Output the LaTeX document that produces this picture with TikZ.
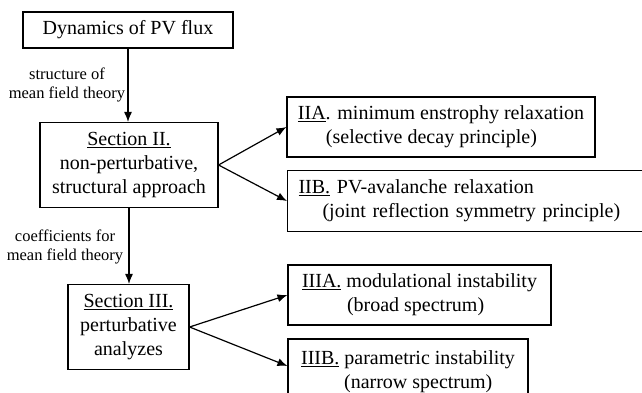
\documentclass[tikz,border=0pt]{standalone}
\usepackage{fontspec}
\setmainfont{Liberation Serif}
\usetikzlibrary{arrows.meta,calc}
\begin{document}
\begin{tikzpicture}[x=1pt,y=-1pt,
 box/.style={draw,line width=1.1pt,inner sep=0pt,font=\fontsize{20}{24}\selectfont},
 lbl/.style={align=center,font=\fontsize{16.5}{19.5}\selectfont,inner sep=0pt},
 arr/.style={line width=1.2pt,-{Latex[length=10pt,width=8pt]}}]
\useasboundingbox (0,0) rectangle (642,393);
\node[box, minimum width=210pt, minimum height=36pt] (top) at (128,30) {Dynamics of PV flux};
\node[box, align=center, minimum width=178pt, minimum height=85pt] (sec2) at (129,165) {\underline{Section II.}\\non-perturbative,\\structural approach};
\node[box, align=center, minimum width=121pt, minimum height=85pt] (sec3) at (128.5,327) {\underline{Section III.}\\perturbative\\analyzes};
\node[box, align=left, minimum width=308pt, minimum height=60pt] (iia) at (441,127) {\underline{IIA}. minimum enstrophy relaxation\\\hspace*{28pt}(selective decay principle)};
\node[box, align=left, anchor=north west, text width=358pt, inner xsep=11pt, minimum height=61pt] (iib) at (287,170) {\underline{IIB.} PV-avalanche relaxation\\\hspace*{24pt}(joint reflection symmetry principle)};
\node[box, align=left, minimum width=263pt, minimum height=60pt] (iiia) at (419.5,295) {\underline{IIIA.} modulational instability\\\hspace*{45pt}(broad spectrum)};
\node[box, align=left, minimum width=240pt, minimum height=66pt] (iiib) at (408,372) {\underline{IIIB.} parametric instability\\\hspace*{43pt}(narrow spectrum)};
\node[lbl] (lab1) at (67,85) {structure of\\mean field theory};
\node[lbl] (lab2) at (65,247) {coefficients for\\mean field theory};
\draw[arr] (top.south) -- (top.south |- sec2.north);
\draw[arr] (sec2.south) -- (sec2.south |- sec3.north);
\draw[arr] (sec2.east) -- (iia.west);
\draw[arr] (sec2.east) -- (iib.west);
\draw[arr] (sec3.east) -- (iiia.west);
\draw[arr] (sec3.east) -- ([yshift=6pt]iiib.west);
\end{tikzpicture}
\end{document}
